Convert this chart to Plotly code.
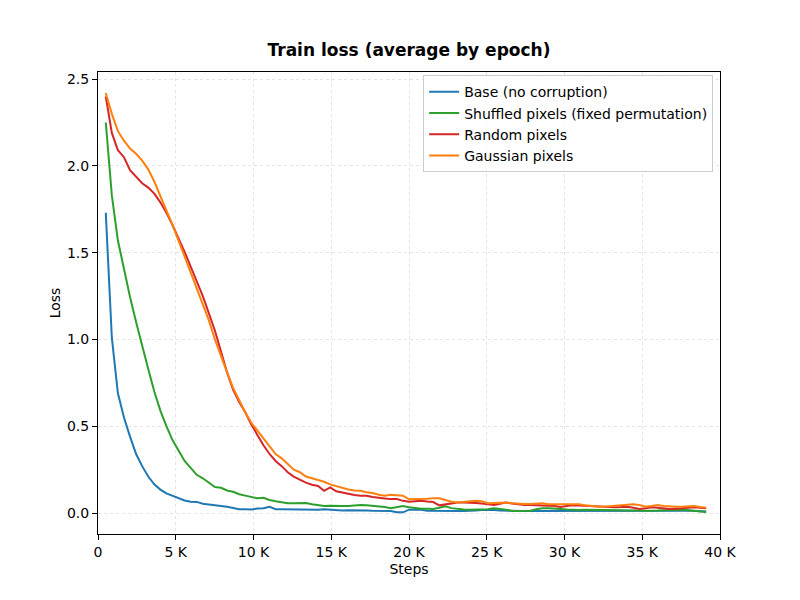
import plotly.graph_objects as go

# x positions: steps at the end of each logged epoch (start 500, every 390 steps)
first_step = 500
steps_per_epoch = 390
n_points = 100
steps = [first_step + steps_per_epoch * k for k in range(n_points)]

base = [1.73, 1.01, 0.69, 0.55, 0.44, 0.34, 0.27, 0.21, 0.165, 0.135,
        0.113, 0.098, 0.085, 0.072, 0.065, 0.064, 0.053, 0.05, 0.045, 0.04,
        0.036, 0.03, 0.022, 0.022, 0.02, 0.026, 0.028, 0.036, 0.022, 0.021,
        0.02, 0.02, 0.022, 0.021, 0.02, 0.019, 0.021, 0.018, 0.016, 0.015,
        0.016, 0.017, 0.014, 0.015, 0.013, 0.012, 0.01, 0.011, 0.005, 0.004,
        0.019, 0.02, 0.019, 0.013, 0.012, 0.012, 0.013, 0.012, 0.011, 0.012,
        0.012, 0.014, 0.017, 0.019, 0.018, 0.015, 0.013, 0.012, 0.012, 0.011,
        0.012, 0.012, 0.012, 0.011, 0.012, 0.01, 0.009, 0.009, 0.01, 0.011,
        0.01, 0.009, 0.01, 0.011, 0.011, 0.01, 0.011, 0.012, 0.012, 0.011,
        0.01, 0.011, 0.012, 0.01, 0.011, 0.013, 0.014, 0.012, 0.01, 0.009]

shuffled = [2.25, 1.83, 1.57, 1.40, 1.245, 1.10, 0.96, 0.83, 0.70, 0.59,
            0.50, 0.42, 0.36, 0.30, 0.26, 0.22, 0.20, 0.175, 0.15, 0.145,
            0.13, 0.122, 0.108, 0.10, 0.093, 0.085, 0.088, 0.075, 0.068, 0.06,
            0.056, 0.056, 0.055, 0.057, 0.05, 0.045, 0.04, 0.042, 0.04, 0.04,
            0.041, 0.045, 0.046, 0.045, 0.042, 0.04, 0.035, 0.028, 0.033, 0.04,
            0.033, 0.028, 0.025, 0.024, 0.023, 0.03, 0.038, 0.028, 0.023, 0.02,
            0.019, 0.019, 0.019, 0.022, 0.027, 0.025, 0.019, 0.012, 0.013, 0.012,
            0.013, 0.022, 0.027, 0.027, 0.027, 0.023, 0.02, 0.018, 0.018, 0.019,
            0.019, 0.019, 0.019, 0.019, 0.019, 0.018, 0.017, 0.016, 0.015, 0.013,
            0.012, 0.014, 0.016, 0.017, 0.019, 0.019, 0.016, 0.012, 0.009, 0.006]

random_px = [2.40, 2.19, 2.09, 2.05, 1.975, 1.935, 1.90, 1.875, 1.84, 1.79,
             1.73, 1.66, 1.585, 1.505, 1.42, 1.34, 1.25, 1.15, 1.05, 0.93,
             0.81, 0.71, 0.64, 0.58, 0.51, 0.45, 0.39, 0.34, 0.30, 0.27,
             0.235, 0.21, 0.19, 0.175, 0.163, 0.156, 0.128, 0.148, 0.125, 0.118,
             0.108, 0.104, 0.10, 0.099, 0.092, 0.086, 0.084, 0.08, 0.08, 0.07,
             0.065, 0.068, 0.07, 0.066, 0.063, 0.044, 0.05, 0.057, 0.06, 0.061,
             0.061, 0.058, 0.055, 0.05, 0.046, 0.053, 0.06, 0.055, 0.05, 0.046,
             0.046, 0.046, 0.045, 0.042, 0.04, 0.035, 0.04, 0.044, 0.043, 0.041,
             0.04, 0.036, 0.033, 0.033, 0.033, 0.034, 0.036, 0.03, 0.023, 0.027,
             0.033, 0.03, 0.025, 0.023, 0.025, 0.027, 0.03, 0.033, 0.03, 0.027]

gaussian = [2.42, 2.30, 2.20, 2.145, 2.10, 2.07, 2.03, 1.98, 1.91, 1.83,
            1.75, 1.66, 1.57, 1.48, 1.39, 1.30, 1.21, 1.11, 1.00, 0.90,
            0.81, 0.72, 0.645, 0.58, 0.52, 0.475, 0.43, 0.38, 0.34, 0.315,
            0.28, 0.25, 0.235, 0.21, 0.20, 0.19, 0.18, 0.165, 0.155, 0.145,
            0.135, 0.13, 0.128, 0.12, 0.115, 0.105, 0.10, 0.105, 0.104, 0.10,
            0.079, 0.079, 0.079, 0.082, 0.085, 0.085, 0.075, 0.065, 0.061, 0.065,
            0.071, 0.071, 0.068, 0.056, 0.058, 0.06, 0.06, 0.056, 0.052, 0.052,
            0.052, 0.055, 0.056, 0.05, 0.052, 0.051, 0.05, 0.05, 0.05, 0.045,
            0.04, 0.038, 0.036, 0.038, 0.04, 0.043, 0.046, 0.05, 0.046, 0.036,
            0.04, 0.046, 0.04, 0.036, 0.036, 0.036, 0.038, 0.04, 0.035, 0.031]

series_names = ["Base (no corruption)", "Shuffled pixels (fixed permutation)",
                "Random pixels", "Gaussian pixels"]
series_values = [base, shuffled, random_px, gaussian]
series_colors = ["#1f77b4", "#2ca02c", "#d62728", "#ff7f0e"]

x_tick_vals = [0, 5000, 10000, 15000, 20000, 25000, 30000, 35000, 40000]
x_tick_text = ["0", "5 K", "10 K", "15 K", "20 K", "25 K", "30 K", "35 K", "40 K"]
y_tick_vals = [0.0, 0.5, 1.0, 1.5, 2.0, 2.5]

fig = go.Figure()
for name, vals, col in zip(series_names, series_values, series_colors):
    fig.add_trace(go.Scatter(x=steps, y=vals, mode="lines", name=name,
                             line=dict(color=col, width=2)))

font_family = "DejaVu Sans"
fig.update_layout(
    width=800, height=600,
    paper_bgcolor="white", plot_bgcolor="white",
    margin=dict(l=98, r=80, t=72, b=66),
    font=dict(family=font_family, size=14, color="black"),
    title=dict(text="<b>Train loss (average by epoch)</b>", x=0.5, xref="paper",
               xanchor="center", y=1 - 50 / 600, yref="container", yanchor="middle",
               font=dict(size=17, family=font_family, color="black")),
    showlegend=True,
    legend=dict(x=0.989, y=0.993, xanchor="right", yanchor="top",
                bgcolor="rgba(255,255,255,0.8)", bordercolor="#cccccc", borderwidth=1,
                font=dict(size=14, family=font_family), tracegroupgap=0,
                itemwidth=30),
)
fig.update_xaxes(range=[0, 40000], tickvals=x_tick_vals, ticktext=x_tick_text,
                 showline=True, linecolor="black", linewidth=1, mirror=True,
                 ticks="outside", ticklen=5, tickcolor="black",
                 showgrid=True, gridcolor="#e4e4e4", griddash="dot", gridwidth=1,
                 zeroline=False,
                 title=dict(text="Steps", standoff=5, font=dict(size=14)))
fig.update_yaxes(range=[-0.121, 2.541], tickvals=y_tick_vals, tickformat=".1f",
                 showline=True, linecolor="black", linewidth=1, mirror=True,
                 ticks="outside", ticklen=5, tickcolor="black",
                 showgrid=True, gridcolor="#e4e4e4", griddash="dot", gridwidth=1,
                 zeroline=False,
                 title=dict(text="Loss", standoff=3, font=dict(size=14)))

fig.write_html("out.html")
